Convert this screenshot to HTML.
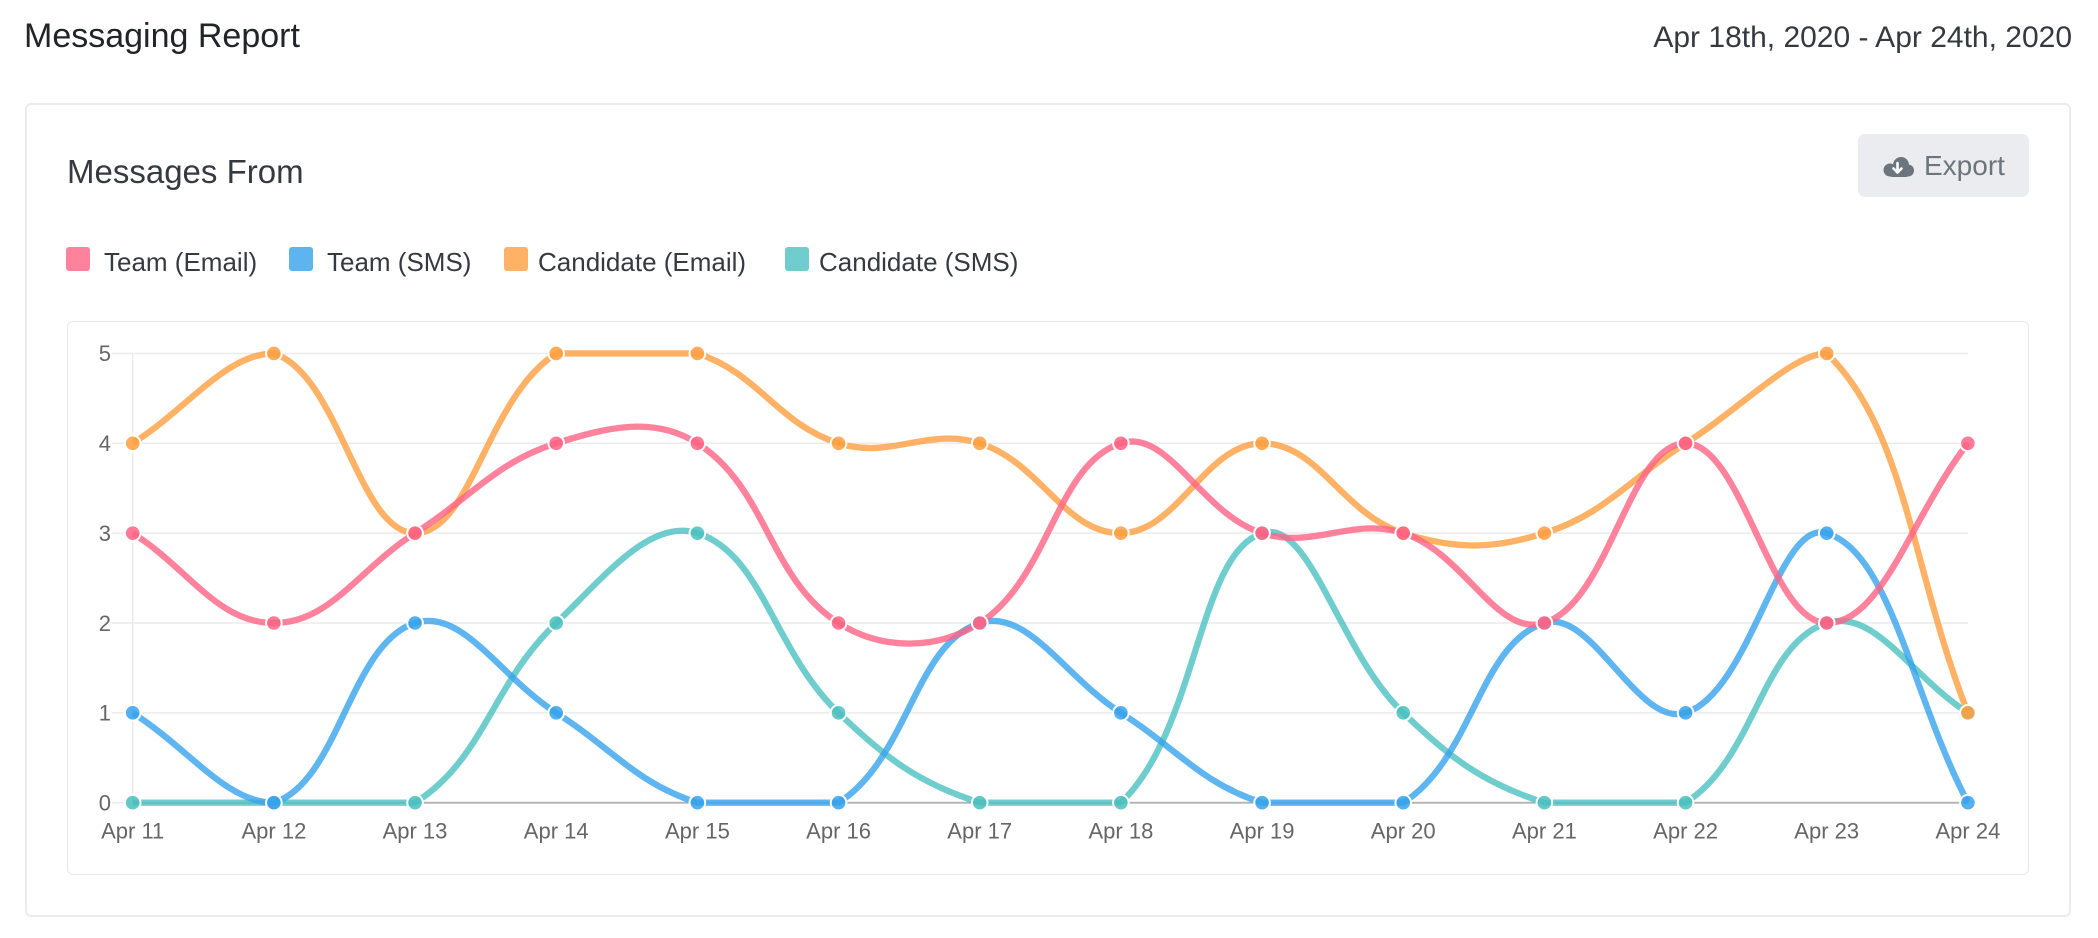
<!DOCTYPE html>
<html><head><meta charset="utf-8">
<style>
html,body{margin:0;padding:0;background:#fff;width:2098px;height:938px;overflow:hidden;font-family:"Liberation Sans",Arial,sans-serif;}
.t{position:absolute;white-space:nowrap;line-height:1;}
.box{position:absolute;width:24px;height:24px;border-radius:3px;top:247px;}
</style></head><body>
<div class="t" style="left:24px;top:19px;font-size:34px;color:#212529">Messaging Report</div>
<div class="t" style="right:26px;top:22.6px;font-size:30px;color:#343a40">Apr 18th, 2020 - Apr 24th, 2020</div>

<div style="position:absolute;left:25px;top:103px;width:2046px;height:814px;border:2px solid #ececec;border-radius:6px;box-sizing:border-box"></div>

<div class="t" style="left:67px;top:155px;font-size:33px;color:#343a40">Messages From</div>

<div style="position:absolute;left:1858px;top:134px;width:171px;height:63px;background:#eaecef;border-radius:7px"></div>
<svg style="position:absolute;left:1880px;top:152px" width="38" height="30" viewBox="0 0 38 30">
  <g fill="#6c757d">
    <circle cx="21" cy="13" r="8"/>
    <circle cx="10" cy="18" r="6.5"/>
    <circle cx="28" cy="18.5" r="6"/>
    <rect x="9" y="16" width="20" height="9" rx="3"/>
  </g>
  <path d="M17.5 11 V20 M13.5 16.5 L17.5 20.5 L21.5 16.5" stroke="#fff" stroke-width="2.6" fill="none" stroke-linecap="round" stroke-linejoin="round"/>
</svg>
<div class="t" style="left:1924px;top:151.5px;font-size:28px;color:#6c757d">Export</div>

<div class="box" style="left:66px;background:#ff829d"></div>
<div class="t" style="left:104px;top:248.7px;font-size:26px;color:#343a40">Team (Email)</div>
<div class="box" style="left:289px;background:#5eb4ef"></div>
<div class="t" style="left:327px;top:248.7px;font-size:26px;color:#343a40">Team (SMS)</div>
<div class="box" style="left:503.5px;background:#ffb266"></div>
<div class="t" style="left:538px;top:248.7px;font-size:26px;color:#343a40">Candidate (Email)</div>
<div class="box" style="left:785px;background:#6fcdcd"></div>
<div class="t" style="left:819px;top:248.7px;font-size:26px;color:#343a40">Candidate (SMS)</div>

<div style="position:absolute;left:67px;top:321px;width:1962px;height:554px;border:1.5px solid #e8e8e8;border-radius:6px;box-sizing:border-box"></div>

<svg style="position:absolute;left:0;top:0" width="2098" height="938" viewBox="0 0 2098 938" font-family="Liberation Sans, Arial, sans-serif">
  <g stroke="#ebebeb" stroke-width="1.5">
    <line x1="112" y1="353.45" x2="1968" y2="353.45"/>
    <line x1="112" y1="443.3" x2="1968" y2="443.3"/>
    <line x1="112" y1="533.15" x2="1968" y2="533.15"/>
    <line x1="112" y1="623" x2="1968" y2="623"/>
    <line x1="112" y1="712.85" x2="1968" y2="712.85"/>
    <line x1="112" y1="802.7" x2="132.7" y2="802.7"/>
    <line x1="132.7" y1="353.45" x2="132.7" y2="802.7"/>
  </g>
  <line x1="132.7" y1="802.7" x2="1968" y2="802.7" stroke="#b5b5b5" stroke-width="2"/>
  <g font-size="22" fill="#666" text-anchor="end">
    <text x="111" y="361.2">5</text>
    <text x="111" y="451.1">4</text>
    <text x="111" y="540.9">3</text>
    <text x="111" y="630.8">2</text>
    <text x="111" y="720.6">1</text>
    <text x="111" y="810.5">0</text>
  </g>
  <g font-size="22" fill="#666" text-anchor="middle">
    <text x="132.7" y="838.3">Apr 11</text>
    <text x="273.9" y="838.3">Apr 12</text>
    <text x="415.0" y="838.3">Apr 13</text>
    <text x="556.2" y="838.3">Apr 14</text>
    <text x="697.4" y="838.3">Apr 15</text>
    <text x="838.6" y="838.3">Apr 16</text>
    <text x="979.7" y="838.3">Apr 17</text>
    <text x="1120.9" y="838.3">Apr 18</text>
    <text x="1262.1" y="838.3">Apr 19</text>
    <text x="1403.2" y="838.3">Apr 20</text>
    <text x="1544.4" y="838.3">Apr 21</text>
    <text x="1685.6" y="838.3">Apr 22</text>
    <text x="1826.7" y="838.3">Apr 23</text>
    <text x="1967.9" y="838.3">Apr 24</text>
  </g>
  <g id="series"></g>
</svg>

<script>
(function(){
  var X0=132.7,XS=141.17,Y0=802.7,YS=89.85,T=0.4;
  var sets=[
    {c:"255,99,132", d:[3,2,3,4,4,2,2,4,3,3,2,4,2,4]},
    {c:"54,162,235", d:[1,0,2,1,0,0,2,1,0,0,2,1,3,0]},
    {c:"255,159,64", d:[4,5,3,5,5,4,4,3,4,3,3,4,5,1]},
    {c:"75,192,192", d:[0,0,0,2,3,1,0,0,3,1,0,0,2,1]}
  ];
  var top=Y0-5*YS,bottom=Y0,left=X0,right=X0+13*XS;
  function cl(v,a,b){return Math.max(a,Math.min(b,v));}
  var svg="";
  for(var k=sets.length-1;k>=0;k--){
    var s=sets[k],n=s.d.length,p=[],i;
    for(i=0;i<n;i++)p.push({x:X0+i*XS,y:Y0-s.d[i]*YS});
    for(i=0;i<n;i++){
      var a=p[Math.max(i-1,0)],c=p[i],b=p[Math.min(i+1,n-1)];
      var d01=Math.sqrt((c.x-a.x)*(c.x-a.x)+(c.y-a.y)*(c.y-a.y));
      var d12=Math.sqrt((b.x-c.x)*(b.x-c.x)+(b.y-c.y)*(b.y-c.y));
      var s01=d01/(d01+d12),s12=d12/(d01+d12);
      if(isNaN(s01))s01=0;if(isNaN(s12))s12=0;
      var fa=T*s01,fb=T*s12;
      c.px=cl(c.x-fa*(b.x-a.x),left,right);c.py=cl(c.y-fa*(b.y-a.y),top,bottom);
      c.nx=cl(c.x+fb*(b.x-a.x),left,right);c.ny=cl(c.y+fb*(b.y-a.y),top,bottom);
    }
    var d="M"+p[0].x.toFixed(2)+" "+p[0].y.toFixed(2);
    for(i=1;i<n;i++){
      d+=" C"+p[i-1].nx.toFixed(2)+" "+p[i-1].ny.toFixed(2)+" "+p[i].px.toFixed(2)+" "+p[i].py.toFixed(2)+" "+p[i].x.toFixed(2)+" "+p[i].y.toFixed(2);
    }
    svg+='<path d="'+d+'" fill="none" stroke="rgba('+s.c+',0.8)" stroke-width="6.3" stroke-linejoin="round"/>';
    for(i=0;i<n;i++){
      svg+='<circle cx="'+p[i].x.toFixed(2)+'" cy="'+p[i].y.toFixed(2)+'" r="7.8" fill="rgba('+s.c+',0.85)" stroke="#fff" stroke-width="2"/>';
    }
  }
  document.getElementById("series").innerHTML=svg;
})();
</script>
</body></html>
